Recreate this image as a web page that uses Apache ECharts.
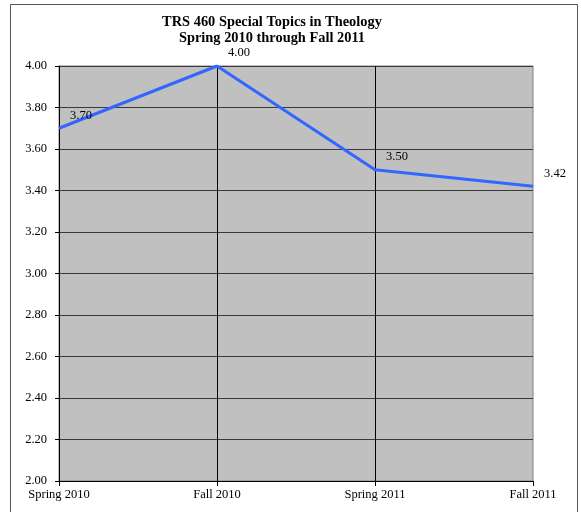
<!DOCTYPE html>
<html>
<head>
<meta charset="utf-8">
<script src="https://cdn.jsdelivr.net/npm/echarts@6/dist/echarts.min.js"></script>
<style>
  html, body { margin: 0; padding: 0; background: #fff; }
  #chart { width: 581px; height: 512px; }
</style>
</head>
<body>
<div id="chart"></div>
<script>
// data
var terms = ['Spring 2010', 'Fall 2010', 'Spring 2011', 'Fall 2011']
var averages = [3.70, 4.00, 3.50, 3.42]
var yMin = 2.0
var yMax = 4.0
var yStep = 0.2

var serif = 'Liberation Serif, Times New Roman, serif'

var chart = echarts.init(document.getElementById('chart'))

chart.setOption({
    backgroundColor: '#fff',
    animation: false,
    title: {
        text: 'TRS 460 Special Topics in Theology\nSpring 2010 through Fall 2011',
        left: 267,
        top: 9,
        textAlign: 'center',
        textStyle: {
            fontFamily: serif,
            fontSize: 14.4,
            fontWeight: 'bold',
            lineHeight: 16.5,
            color: '#000'
        }
    },
    graphic: [{
        type: 'rect',
        shape: { x: 10.5, y: 4.5, width: 567, height: 540 },
        style: { fill: 'none', stroke: '#555', lineWidth: 1 },
        z: 100
    }],
    grid: {
        left: 59,
        right: 48,
        top: 66,
        bottom: 31,
        show: true,
        backgroundColor: '#c0c0c0',
        borderColor: '#808080',
        borderWidth: 1
    },
    xAxis: {
        type: 'category',
        data: terms,
        boundaryGap: false,
        axisLine: { lineStyle: { color: '#000', width: 1 } },
        axisTick: { show: true, length: 5, lineStyle: { color: '#000' } },
        axisLabel: {
            margin: 7,
            fontFamily: serif,
            fontSize: 12.5,
            color: '#000'
        },
        splitLine: {
            show: true,
            interval: function (i) { return i > 0 && i < terms.length - 1 },
            lineStyle: { color: '#000', width: 1 }
        }
    },
    yAxis: {
        type: 'value',
        min: yMin,
        max: yMax,
        interval: yStep,
        axisLine: { show: true, lineStyle: { color: '#000', width: 1 } },
        axisTick: { show: true, length: 4, lineStyle: { color: '#000' } },
        axisLabel: {
            margin: 12,
            fontFamily: serif,
            fontSize: 12.5,
            color: '#000',
            formatter: function (v) { return v.toFixed(2) }
        },
        splitLine: { show: true, lineStyle: { color: '#3a3a3a', width: 1 } }
    },
    series: [{
        type: 'line',
        data: averages,
        symbol: 'circle',
        symbolSize: 1,
        showSymbol: true,
        itemStyle: { color: 'rgba(0,0,0,0)' },
        lineStyle: { color: '#3366ff', width: 3 },
        label: {
            show: true,
            position: 'top',
            distance: 0,
            offset: [22, -6],
            fontFamily: serif,
            fontSize: 12.5,
            color: '#000',
            formatter: function (p) { return p.value.toFixed(2) }
        },
        z: 10
    }]
})
</script>
</body>
</html>
